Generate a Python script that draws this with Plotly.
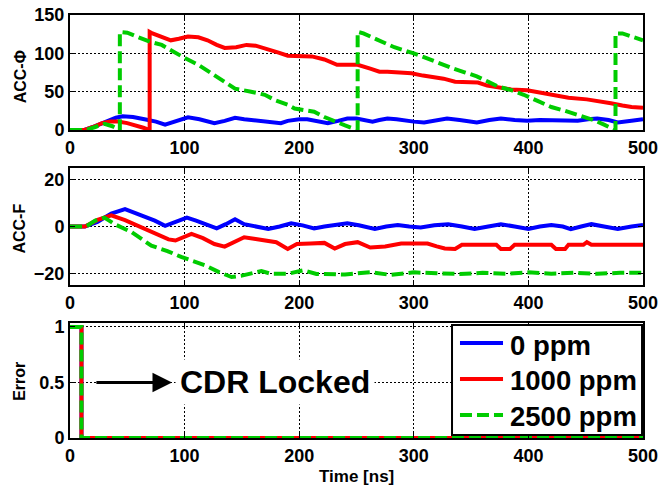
import plotly.graph_objects as go
from plotly.subplots import make_subplots

# ---- ACC-Phi accumulator (top panel) ----
t_phi_0 = [0, 12, 22, 32, 40, 46, 55, 65, 75, 83, 92, 103, 113, 126, 135, 144, 152, 160, 168,
           176, 184, 190, 200, 207, 216, 225, 234, 242, 250, 258, 264, 270, 277, 285, 292, 300,
           309, 318, 329, 340, 355, 366, 376, 388, 399, 410, 420, 432, 443, 452, 460, 470, 478,
           490, 500]
phi_0 = [0, 0, 5, 11, 16, 18, 17, 14, 11, 7, 11, 16.5, 14, 9, 12, 16, 14, 13, 12,
         10, 9, 12, 14, 14, 12, 9, 12, 15, 15, 13, 11, 13, 15, 14, 12, 11,
         10, 12, 15, 13, 10, 13, 15, 13, 12, 13, 13, 12, 12, 14, 15, 13, 10,
         12, 14]

t_phi_1000 = [0, 12, 20, 28, 35, 42, 50, 58, 64, 69.5, 69.5, 72, 80, 88, 95, 103, 112, 120, 128,
              135, 145, 154, 162, 172, 182, 190, 200, 211, 222, 233, 242, 251, 262, 270, 277,
              290, 298, 308, 318, 326, 336, 345, 356, 364, 372, 385, 399, 410, 423, 435, 451,
              462, 472, 482, 490, 500]
phi_1000 = [0, 0, 4, 9, 11, 11, 9, 6, 3, 0, 128, 126, 121, 117, 119, 122, 121, 117, 111,
            107, 108, 111, 110, 106, 101, 97, 96, 96, 92, 85, 85, 85, 80, 76, 76,
            75, 74, 71, 69, 67, 63, 63, 62, 58, 56, 53, 52, 49, 45, 42, 40,
            38, 35, 32, 30, 29]

t_phi_2500 = [0, 14, 22, 30, 37, 43.5, 43.5, 50, 58, 70, 80, 88, 100, 112, 123, 135, 144, 158,
              170, 179, 190, 196, 213, 222, 231, 240, 251, 251, 256, 270, 283, 300, 318, 335,
              345, 355, 365, 373, 385, 396, 408, 420, 432, 443, 457, 466, 476, 476, 482, 490,
              500]
phi_2500 = [0, 0, 4, 8, 5, 0, 128, 127, 122, 115, 111, 104, 94, 85, 74, 63, 54, 50,
            46, 39, 33, 28, 24, 17, 11, 6, 0, 128, 126, 117, 108, 100, 89, 80,
            75, 70, 63, 57, 52, 46, 38, 30, 25, 20, 13, 7, 0, 126, 126, 122,
            117]

# ---- ACC-F accumulator (middle panel) ----
t_f_0 = [0, 13, 24, 36, 48, 56, 65, 74, 83, 92, 102, 110, 120, 128, 136, 144, 152, 164, 173,
         183, 193, 203, 213, 222, 232, 242, 252, 266, 276, 286, 296, 306, 318, 330, 342, 353,
         365, 376, 388, 400, 410, 420, 430, 437, 446, 455, 466, 478, 490, 500]
f_0 = [0, 0, 2, 5.5, 7.4, 6, 4.5, 2.5, 0.3, 2, 3.8, 2.5, 0.5, -0.8, 1, 3.1, 1, 0, -1.1,
       0, 1.4, 0.5, -0.8, 0, 0.5, 1.4, 0.5, -1.1, 0, 0.6, 0, -0.4, 0.5, 1, 0, -1.1,
       0, 1, 0, -1.1, 0, 0.6, 0, -1.1, 0, 1, 0, -1.1, 0, 0.6]

t_f_1000 = [0, 13, 24, 36, 48, 58, 66, 76, 86, 92, 100, 106, 116, 126, 135, 144, 152, 162, 171,
            180, 190, 198, 210, 222, 231, 240, 251, 262, 275, 289, 300, 312, 320, 327, 336,
            342, 372, 376, 384, 388, 420, 424, 432, 435, 448, 451, 455, 500]
f_1000 = [0, 0, 2.8, 4.8, 2.7, 0.5, -1.1, -3.5, -5.5, -6, -4.5, -3.2, -5, -7.5, -8.6, -6.5,
          -4.6, -5.3, -6, -6.7, -9.6, -7.5, -7.3, -7, -9.4, -7.5, -6.7, -9, -8.5, -7.3,
          -7.3, -7.3, -8.5, -9.4, -9.6, -7.8, -7.8, -9.6, -9.6, -7.8, -7.8, -9.6, -9.6,
          -7.8, -7.8, -6.7, -7.8, -7.8]

t_f_2500 = [0, 14, 22, 30, 39, 54, 71, 85, 97, 108, 118, 130, 141, 150, 158, 167, 175, 190,
            204, 215, 240, 262, 280, 300, 320, 340, 360, 380, 400, 420, 440, 460, 480, 500]
f_2500 = [0, 0, 2.5, 3.8, 1, -2.5, -8.2, -10.5, -13, -15, -16.6, -19.5, -21.6, -21, -20.2,
          -19, -20.2, -20.2, -18.7, -20.3, -20.5, -19.5, -20.7, -19.6, -20, -20.3, -19.8,
          -20.2, -19.6, -20.2, -19.8, -20.2, -19.8, -19.8]

# ---- Lock error flag (bottom panel) ----
t_err = [0, 10, 10, 500]
err_0 = [1, 1, 0, 0]
err_1000 = [1, 1, 0, 0]
err_2500 = [1, 1, 0, 0]

series_names = ["0 ppm", "1000 ppm", "2500 ppm"]
x_ticks = [0, 100, 200, 300, 400, 500]
phi_ticks = [0, 50, 100, 150]
f_ticks = [-20, 0, 20]
err_ticks = [0, 0.5, 1]
err_ticklabels = ["0", "0.5", "1"]

FONT = "Liberation Sans"
colors = ["#0000FF", "#FF0000", "#00CC00"]
dashes = ["solid", "solid", "12px,5px"]

fig = make_subplots(rows=3, cols=1)

panels = [
    (1, [(t_phi_0, phi_0), (t_phi_1000, phi_1000), (t_phi_2500, phi_2500)]),
    (2, [(t_f_0, f_0), (t_f_1000, f_1000), (t_f_2500, f_2500)]),
    (3, [(t_err, err_0), (t_err, err_1000), (t_err, err_2500)]),
]
for row, data in panels:
    for i, (tx, vy) in enumerate(data):
        fig.add_trace(
            go.Scatter(
                x=tx, y=vy, mode="lines", name=series_names[i],
                line=dict(color=colors[i], width=4, dash=dashes[i]),
                showlegend=False,
            ),
            row=row, col=1,
        )

axis_common = dict(
    showline=True, linecolor="black", linewidth=2, mirror="ticks",
    ticks="inside", ticklen=5, tickwidth=1, tickcolor="black",
    showgrid=True, gridcolor="black", gridwidth=1, griddash="2px,2px",
    zeroline=False, automargin=False,
    tickfont=dict(family=FONT, size=18, color="black", weight="bold"),
)

domains = [[0.728, 1.0], [0.3617, 0.6383], [0.0, 0.2719]]
yranges = [[0, 150], [-25, 25], [0, 1.036]]
yticks = [phi_ticks, f_ticks, err_ticks]
for r in range(3):
    xa = "xaxis" if r == 0 else f"xaxis{r + 1}"
    ya = "yaxis" if r == 0 else f"yaxis{r + 1}"
    fig.update_layout({
        xa: dict(axis_common, domain=[0, 1], range=[0, 500], tickvals=x_ticks),
        ya: dict(axis_common, domain=domains[r], range=yranges[r], tickvals=yticks[r]),
    })
fig.update_layout(yaxis3=dict(ticktext=err_ticklabels))

title_font = dict(family=FONT, size=16, color="black", weight="bold")
annotations = [
    dict(text="ACC-Φ", x=-0.0873, y=0.855, xref="paper", yref="paper", textangle=-90,
         showarrow=False, font=title_font, xanchor="center", yanchor="middle"),
    dict(text="ACC-F", x=-0.0873, y=0.495, xref="paper", yref="paper", textangle=-90,
         showarrow=False, font=title_font, xanchor="center", yanchor="middle"),
    dict(text="Error", x=-0.0873, y=0.135, xref="paper", yref="paper", textangle=-90,
         showarrow=False, font=title_font, xanchor="center", yanchor="middle"),
    dict(text="Time [ns]", x=0.5, y=-0.091, xref="paper", yref="paper",
         showarrow=False, font=dict(family=FONT, size=17, color="black", weight="bold"),
         xanchor="center", yanchor="middle"),
    # lock indicator: label and arrow
    dict(text="CDR Locked", x=179, y=0.5, xref="x3", yref="y3", showarrow=False,
         font=dict(family=FONT, size=32, color="black", weight="bold"),
         bgcolor="white", borderpad=4, xanchor="center", yanchor="middle"),
    dict(text="", x=89, y=0.5, ax=21.7, ay=0.5, xref="x3", yref="y3",
         axref="x3", ayref="y3", showarrow=True, arrowhead=2, arrowsize=1.3,
         arrowwidth=3, arrowcolor="black"),
]

# Legend box inside the Error panel (paper coordinates)
legend_box = dict(x0=0.6667, x1=0.9983, y0=0.0071, y1=0.2671)
legend_line_x = (0.6806, 0.7557)
legend_text_x = 0.7644
legend_line_y = [0.2246, 0.1395, 0.0544]
legend_text_y = [0.2175, 0.1348, 0.0520]

shapes = [
    dict(type="rect", xref="paper", yref="paper", layer="above",
         fillcolor="white", line=dict(color="black", width=2), **legend_box),
]
for i, name in enumerate(series_names):
    shapes.append(dict(
        type="line", xref="paper", yref="paper", layer="above",
        x0=legend_line_x[0], x1=legend_line_x[1],
        y0=legend_line_y[i], y1=legend_line_y[i],
        line=dict(color=colors[i], width=4, dash=dashes[i]),
    ))
    annotations.append(dict(
        text=name, x=legend_text_x, y=legend_text_y[i], xref="paper", yref="paper",
        showarrow=False, xanchor="left", yanchor="middle",
        font=dict(family=FONT, size=27.5, color="black", weight="bold"),
    ))

fig.update_layout(
    width=660, height=486,
    margin=dict(l=70, r=17, t=15, b=48, autoexpand=False),
    paper_bgcolor="white", plot_bgcolor="white",
    annotations=annotations,
    shapes=shapes,
    showlegend=False,
)

fig.write_html("out.html")
